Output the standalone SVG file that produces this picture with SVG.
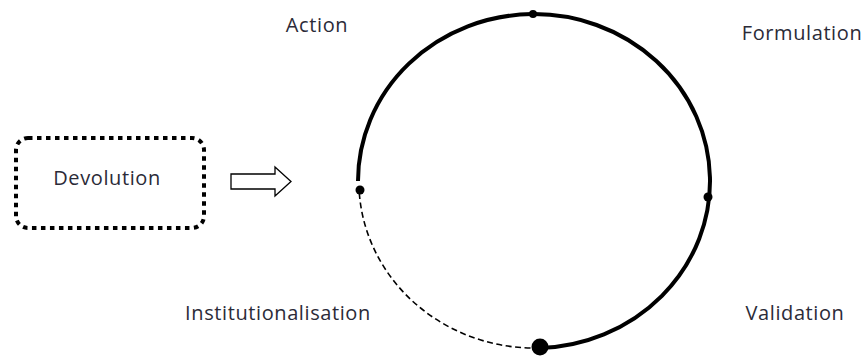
<svg xmlns="http://www.w3.org/2000/svg" width="867" height="361" viewBox="0 0 867 361">
<style>
text{font-family:"Open Sans","DejaVu Sans",sans-serif;font-size:20px;letter-spacing:0.6px;fill:#2b2b38}
.dot{fill:#000}
</style>
<rect width="867" height="361" fill="#fff"/>
<g id="devolution">
<rect x="16" y="138" width="188" height="90" rx="12" fill="none" stroke="#000" stroke-width="4" stroke-dasharray="4.5 4.5"/>
<text x="107" y="185" text-anchor="middle">Devolution</text>
</g>
<g id="arrow">
<path d="M231 174 H275 V167 L291 181.5 L275 196 V189 H231 Z" fill="#fff" stroke="#000" stroke-width="1.3"/>
</g>
<g id="labels">
<text id="action" x="317" y="32" text-anchor="middle">Action</text>
<text id="formulation" x="802" y="40" text-anchor="middle">Formulation</text>
<text id="institutionalisation" x="278" y="320" text-anchor="middle">Institutionalisation</text>
<text id="validation" x="795" y="320" text-anchor="middle">Validation</text>
</g>
<g id="connectors">
<path d="M358 181 A176 167 0 1 1 540 348" fill="none" stroke="#000" stroke-width="4"/>
<path d="M540 348 A176 167 0 0 1 359 188" fill="none" stroke="#000" stroke-width="1.6" stroke-dasharray="6 3.5"/>
</g>
<g id="points">
<circle class="dot" cx="533" cy="14" r="4"/>
<circle class="dot" cx="708" cy="197" r="4.5"/>
<circle class="dot" cx="360" cy="190" r="4.5"/>
<circle class="dot" cx="540" cy="347" r="8.5"/>
</g>
</svg>
